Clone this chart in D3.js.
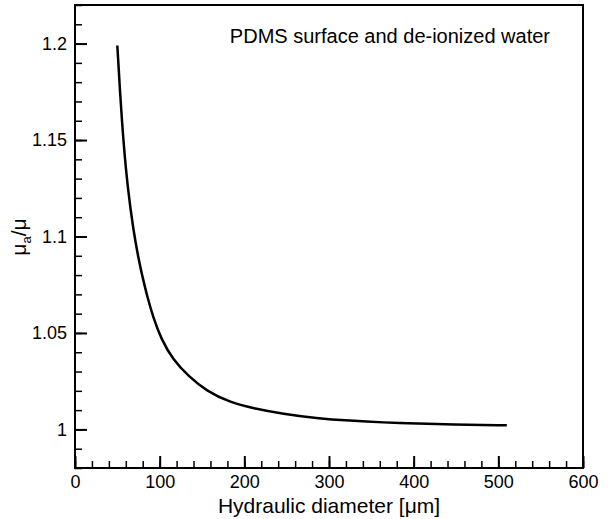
<!DOCTYPE html>
<html lang="en">
<head>
<meta charset="UTF-8">
<title>PDMS viscosity ratio</title>
<style>
  body { margin: 0; background: #fff; }
  text { font-family: "Liberation Sans", Arial, sans-serif; fill: #000; }
</style>
</head>
<body>
<svg width="609" height="519" id="svg"></svg>
<script src="https://d3js.org/d3.v7.min.js"></script>
<script>
// values
const diameter = [50, 53, 57, 62, 69, 75, 80, 85, 92, 102, 116, 134, 155, 183, 210, 246, 285, 325, 364, 404, 443, 510]
const ratio = [1.199, 1.176, 1.150, 1.126, 1.103, 1.0885, 1.0785, 1.0695, 1.0585, 1.0466, 1.036, 1.0276, 1.020, 1.014, 1.011, 1.008, 1.0058, 1.0045, 1.0036, 1.003, 1.0026, 1.0021]
const xTicks = [0, 100, 200, 300, 400, 500, 600]
const yTicks = [1, 1.05, 1.1, 1.15, 1.2]
const xMinor = d3.range(0, 601, 20)
const yMinor = d3.range(0.98, 1.2201, 0.01)

const svg = d3.select("svg#svg")
const m = { left: 75, top: 5, right: 26, bottom: 51 }
const W = 609 - m.left - m.right
const H = 519 - m.top - m.bottom

const x = d3.scaleLinear().domain([0, 600]).range([0, W])
const y = d3.scaleLinear().domain([0.98, 1.22]).range([H, 0])

const g = svg.append("g").attr("transform", `translate(${m.left},${m.top})`)

// minor ticks
g.append("g").attr("transform", `translate(0,${H})`)
  .call(d3.axisBottom(x).tickValues(xMinor).tickSize(-7).tickFormat(""))
g.append("g")
  .call(d3.axisLeft(y).tickValues(yMinor).tickSize(-7).tickFormat(""))

// major ticks with labels
const xa = g.append("g").attr("transform", `translate(0,${H})`)
  .call(d3.axisBottom(x).tickValues(xTicks).tickSize(-12).tickFormat(d3.format("d")))
const ya = g.append("g")
  .call(d3.axisLeft(y).tickValues(yTicks).tickSize(-12).tickFormat(d => String(+d.toFixed(2))))

g.selectAll(".domain").remove()
g.selectAll(".tick line").attr("stroke", "#000").attr("stroke-width", 1.5)
xa.selectAll(".tick line").attr("stroke-width", 2)
ya.selectAll(".tick line").attr("stroke-width", 2)
g.selectAll(".tick text").attr("font-size", 18).attr("fill", "#000")
  .style("font-family", '"Liberation Sans", Arial, sans-serif')
xa.selectAll(".tick text").attr("dy", "0.75em").attr("y", 6)
ya.selectAll(".tick text").attr("x", -8)

// frame
g.append("rect").attr("width", W).attr("height", H)
  .attr("fill", "none").attr("stroke", "#000").attr("stroke-width", 2)

// curve
const pts = diameter.map((d, i) => [d, ratio[i]])
const line = d3.line().x(d => x(d[0])).y(d => y(d[1])).curve(d3.curveBasis)
g.append("path").datum(pts)
  .attr("fill", "none").attr("stroke", "#000").attr("stroke-width", 2.5)
  .attr("d", line)

// annotation
g.append("text").attr("x", W - 33).attr("y", 38).attr("text-anchor", "end")
  .attr("font-size", 20).text("PDMS surface and de-ionized water")

// axis titles
svg.append("text").attr("x", m.left + W / 2).attr("y", 513).attr("text-anchor", "middle")
  .attr("font-size", 21).text("Hydraulic diameter [\u03bcm]")

const yt = svg.append("text").attr("transform", "translate(26,237) rotate(-90)")
  .attr("text-anchor", "middle").attr("font-size", 21)
yt.append("tspan").text("\u03bc")
yt.append("tspan").attr("font-size", 13).attr("dy", 5).text("a")
yt.append("tspan").attr("dy", -5).text("/\u03bc")
</script>
</body>
</html>
